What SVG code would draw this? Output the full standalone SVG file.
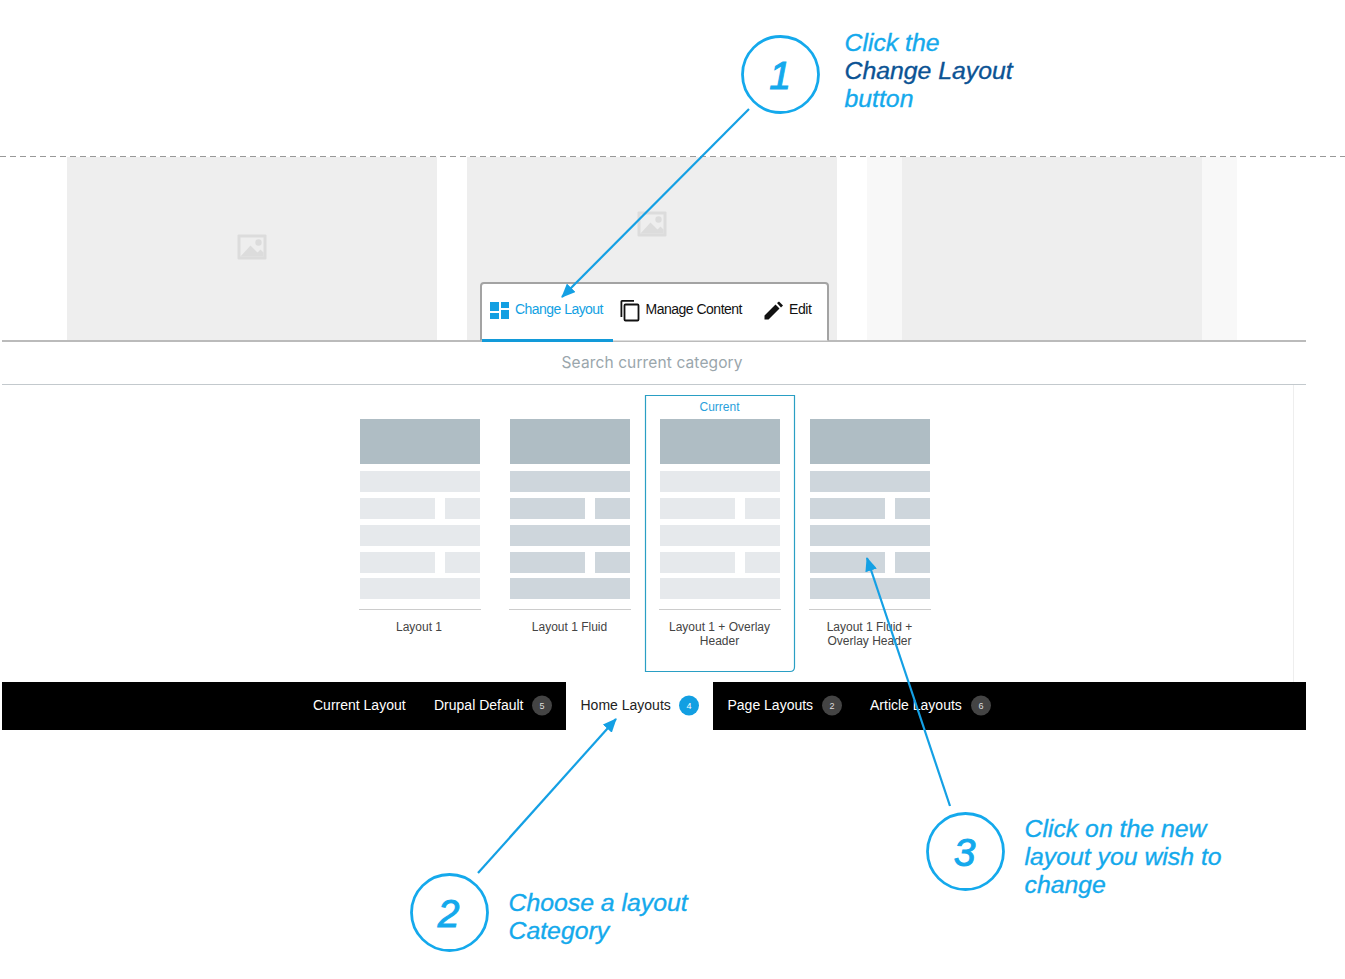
<svg xmlns="http://www.w3.org/2000/svg" width="1345" height="979" viewBox="0 0 1345 979">
<style>
text{font-family:"Liberation Sans",Arial,sans-serif}
.call{font-size:24.800px;font-style:italic;fill:#14a9ec;stroke:#14a9ec;stroke-width:.35}
.dark{fill:#0b5394;stroke:#0b5394}
.num{font-size:39px;font-style:italic;fill:#14a9ec;stroke:#14a9ec;stroke-width:1;text-anchor:middle}
.ring{fill:#fff;stroke:#14a9ec;stroke-width:2.800}
.lab{font-size:12px;fill:#444;text-anchor:middle}
.tab{font-size:14px;fill:#fff}
.h{fill:#afbdc4}
.d{fill:#ced6dc}
.l{fill:#e6e9ec}
.ph{fill:#eeeeee}
.bdg{fill:#444}
.bt{font-size:9px;fill:#ddd;text-anchor:middle}
.ico{fill:#dcdcdc}
.arr{stroke:#14a0e4;stroke-width:2.200;fill:none;marker-end:url(#ah)}
</style>
<defs>
<marker id="ah" markerUnits="userSpaceOnUse" markerWidth="14" markerHeight="12" refX="13" refY="6" orient="auto"><path d="M0 0L14 6L0 12Z" fill="#14a0e4"/></marker>
<g id="thumb-d"><rect x="0" y="0" width="120" height="45" class="h"/><rect y="52" width="120" height="21" class="d"/><rect y="79" width="75" height="21" class="d"/><rect x="85" y="79" width="35" height="21" class="d"/><rect y="106" width="120" height="21" class="d"/><rect y="133" width="75" height="21" class="d"/><rect x="85" y="133" width="35" height="21" class="d"/><rect y="159" width="120" height="21" class="d"/><rect x="-1" y="190" width="122" height="1" fill="#ccc"/></g>
<g id="thumb-l"><rect x="0" y="0" width="120" height="45" class="h"/><rect y="52" width="120" height="21" class="l"/><rect y="79" width="75" height="21" class="l"/><rect x="85" y="79" width="35" height="21" class="l"/><rect y="106" width="120" height="21" class="l"/><rect y="133" width="75" height="21" class="l"/><rect x="85" y="133" width="35" height="21" class="l"/><rect y="159" width="120" height="21" class="l"/><rect x="-1" y="190" width="122" height="1" fill="#ccc"/></g>
<g id="pic"><rect x="0" y="0" width="29" height="25" rx="1" class="ico"/><rect x="3" y="3" width="23" height="19" fill="#eeeeee"/><circle cx="21" cy="8" r="3.200" class="ico"/><path d="M3 22L13 11L20 18L23 15L26 18V22Z" class="ico"/></g>
</defs>
<rect width="1345" height="979" fill="#fff"/>
<g id="page-preview">
<rect x="67" y="157" width="370" height="184" class="ph"/>
<rect x="467" y="157" width="370" height="184" class="ph"/>
<rect x="867" y="157" width="370" height="184" fill="#f8f8f8"/>
<rect x="902" y="157" width="300" height="184" class="ph"/>
<use href="#pic" x="237.500" y="234.500"/>
<use href="#pic" x="637.500" y="211.500"/>
<line x1="0" y1="156.500" x2="1345" y2="156.500" stroke="#999" stroke-dasharray="6 4"/>
</g>
<g id="search">
<rect x="2" y="340" width="1304" height="2" fill="#bbb"/>
<text x="652" y="368" font-size="15.500" fill="#9aa6ac" text-anchor="middle" textLength="181" style="font-family:Inter,'Liberation Sans',sans-serif">Search current category</text>
<rect x="2" y="384" width="1304" height="1" fill="#c3c9cd"/>
<rect x="1293" y="385" width="1" height="297" fill="#eee"/>
</g>
<g id="toolbar">
<path d="M481 340.500V286Q481 283 484 283H825Q828 283 828 286V340.500" fill="#fff" stroke="#a3a3a3" stroke-width="2"/>
<rect x="482" y="339" width="131" height="3" fill="#129ad9"/>
<g fill="#129fe2"><rect x="490" y="302" width="9" height="9"/><rect x="501" y="302" width="8" height="6"/><rect x="490" y="313" width="9" height="6"/><rect x="501" y="310" width="8" height="9"/></g>
<text x="515" y="314" font-size="14" fill="#129fe2" textLength="88.500">Change Layout</text>
<path d="M622 317H620.500V301.500Q620.500 300 622 300H634V301.800H622.300V317Z" fill="#111"/>
<rect x="624.500" y="304.500" width="14" height="16" rx="1" fill="none" stroke="#111" stroke-width="1.800"/>
<text x="645.500" y="314" font-size="14" fill="#111" textLength="97">Manage Content</text>
<path d="M764.500 319.500V315.500L775.500 304.500L779.500 308.500L768.500 319.500ZM777 303L779 301.500L783 305.500L781 307.500Z" fill="#111"/>
<text x="789" y="314" font-size="14" fill="#111" textLength="23">Edit</text>
</g>
<g id="layout-1"><use href="#thumb-l" x="360" y="419"/><text x="419" y="631" class="lab">Layout 1</text></g>
<g id="layout-1-fluid"><use href="#thumb-d" x="510" y="419"/><text x="569.500" y="631" class="lab">Layout 1 Fluid</text></g>
<g id="layout-1-overlay">
<path d="M645.500 395.500H794.500V667Q794.500 671.500 790 671.500H645.500Z" fill="#fff" stroke="#2a9fc4" stroke-width="1.200"/>
<text x="719.500" y="411" font-size="12" fill="#2a9fdc" text-anchor="middle">Current</text>
<use href="#thumb-l" x="660" y="419"/>
<text x="719.500" y="631" class="lab">Layout 1 + Overlay</text><text x="719.500" y="645" class="lab">Header</text>
</g>
<g id="layout-1-fluid-overlay"><use href="#thumb-d" x="810" y="419"/><text x="869.500" y="631" class="lab">Layout 1 Fluid +</text><text x="869.500" y="645" class="lab">Overlay Header</text></g>
<g id="tabs">
<rect x="2" y="682" width="1304" height="48" fill="#000"/>
<rect x="566" y="682" width="147" height="48" fill="#fff"/>
<text x="313" y="710" class="tab">Current Layout</text>
<text x="434" y="710" class="tab">Drupal Default</text>
<circle cx="542" cy="705.500" r="10" class="bdg"/><text x="542" y="709" class="bt">5</text>
<text x="580.500" y="710" class="tab" style="fill:#222">Home Layouts</text>
<circle cx="689" cy="705.500" r="10" fill="#129fe2"/><text x="689" y="709" class="bt" style="fill:#fff">4</text>
<text x="727.500" y="710" class="tab">Page Layouts</text>
<circle cx="832" cy="705.500" r="10" class="bdg"/><text x="832" y="709" class="bt">2</text>
<text x="870" y="710" class="tab">Article Layouts</text>
<circle cx="981" cy="705.500" r="10" class="bdg"/><text x="981" y="709" class="bt">6</text>
</g>
<g id="connectors">
<line class="arr" x1="749" y1="109" x2="562" y2="297"/>
<line class="arr" x1="478" y1="873" x2="616" y2="719"/>
<line class="arr" x1="950" y1="806" x2="867" y2="558"/>
</g>
<g id="step-1">
<circle cx="780.500" cy="74.500" r="38" class="ring"/>
<text x="780" y="89" class="num">1</text>
<text x="844.500" y="51.300" class="call">Click the</text>
<text x="844.500" y="79.300" class="call dark">Change Layout</text>
<text x="844.500" y="107.300" class="call">button</text>
</g>
<g id="step-2">
<circle cx="449.500" cy="912.500" r="38" class="ring"/>
<text x="448.500" y="927" class="num">2</text>
<text x="508.500" y="911.300" class="call">Choose a layout</text>
<text x="508.500" y="939.300" class="call">Category</text>
</g>
<g id="step-3">
<circle cx="965.500" cy="851.500" r="38" class="ring"/>
<text x="964.500" y="866" class="num">3</text>
<text x="1024.500" y="837.300" class="call">Click on the new</text>
<text x="1024.500" y="865.300" class="call">layout you wish to</text>
<text x="1024.500" y="893.300" class="call">change</text>
</g>
</svg>
